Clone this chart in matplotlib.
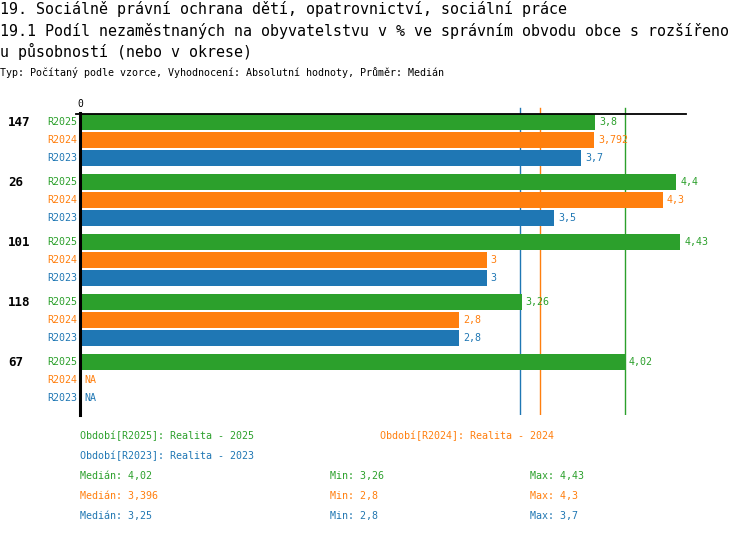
import numpy as np
import matplotlib.pyplot as plt

# data
groups = ['147', '26', '101', '118', '67']
series = ['R2025', 'R2024', 'R2023']
r2025 = [3.8, 4.4, 4.43, 3.26, 4.02]
r2024 = [3.792, 4.3, 3.0, 2.8, np.nan]
r2023 = [3.7, 3.5, 3.0, 2.8, np.nan]
colors = ['#2ca02c', '#ff7f0e', '#1f77b4']
legend_names = ['Období[R2025]: Realita - 2025',
                'Období[R2024]: Realita - 2024',
                'Období[R2023]: Realita - 2023']

title1 = '19. Sociálně právní ochrana dětí, opatrovnictví, sociální práce'
title2 = '19.1 Podíl nezaměstnaných na obyvatelstvu v % ve správním obvodu obce s rozšířeno'
title3 = 'u působností (nebo v okrese)'
subtitle = 'Typ: Počítaný podle vzorce, Vyhodnocení: Absolutní hodnoty, Průměr: Medián'

MONO = 'DejaVu Sans Mono'
W, H = 750, 534


def fmt(v):
    if np.isnan(v):
        return 'NA'
    return ('%g' % v).replace('.', ',')


def fx(px):
    return px / W


def fy(py):
    return 1 - py / H


fig = plt.figure(figsize=(W / 100, H / 100), dpi=100)

fig.text(fx(0), fy(9), title1, family=MONO, fontsize=10.8, va='center')
fig.text(fx(0), fy(31), title2, family=MONO, fontsize=10.8, va='center')
fig.text(fx(0), fy(51), title3, family=MONO, fontsize=10.8, va='center')
fig.text(fx(0), fy(73), subtitle, family=MONO, fontsize=7.2, va='center')

# axes spans x 80..686 px and y 107..415 px, y in pixel units from top
ax = fig.add_axes([fx(80), fy(415), (686 - 80) / W, (415 - 107) / H])
xmax = 606 / 135.5
ax.set_xlim(0, xmax)
ax.set_ylim(415, 107)
ax.axis('off')

vals = [r2025, r2024, r2023]
for g in range(len(groups)):
    for s in range(len(series)):
        y = 122 + 60 * g + 18 * s
        v = vals[s][g]
        if not np.isnan(v):
            ax.barh(y, v, height=16, color=colors[s], zorder=2)
        ax.text((0 if np.isnan(v) else v) + 0.03, y, fmt(v), color=colors[s],
                family=MONO, fontsize=7.2, va='center', ha='left')
        ax.text(-0.022, y, series[s], color=colors[s], family=MONO,
                fontsize=7.2, va='center', ha='right')
    ax.text(-0.53, 122 + 60 * g, groups[g], family=MONO, fontsize=9,
            fontweight='bold', va='center', ha='left')

# medians (behind the bars)
meds = [np.nanmedian(v) for v in vals]
for s in range(len(series)):
    ax.plot([meds[s], meds[s]], [108, 415], color=colors[s], lw=1, zorder=1)

# axis lines
ax.plot([0, xmax], [114, 114], color='black', lw=1.3, zorder=4, clip_on=False)
ax.plot([0, 0], [113, 415], color='black', lw=2.2, zorder=4, clip_on=False)
ax.plot([-0.03, 0], [114, 114], color='black', lw=1.3, zorder=4, clip_on=False)
ax.text(0, 104, '0', family=MONO, fontsize=7, ha='center', va='center')

# legend / stats
fig.text(fx(80), fy(436), legend_names[0], color=colors[0], family=MONO,
         fontsize=7.2, va='center')
fig.text(fx(380), fy(436), legend_names[1], color=colors[1], family=MONO,
         fontsize=7.2, va='center')
fig.text(fx(80), fy(456), legend_names[2], color=colors[2], family=MONO,
         fontsize=7.2, va='center')
for s in range(len(series)):
    y = 476 + 20 * s
    fig.text(fx(80), fy(y), 'Medián: ' + fmt(meds[s]), color=colors[s],
             family=MONO, fontsize=7.2, va='center')
    fig.text(fx(330), fy(y), 'Min: ' + fmt(np.nanmin(vals[s])), color=colors[s],
             family=MONO, fontsize=7.2, va='center')
    fig.text(fx(530), fy(y), 'Max: ' + fmt(np.nanmax(vals[s])), color=colors[s],
             family=MONO, fontsize=7.2, va='center')

fig.savefig('out.png', dpi=100)
